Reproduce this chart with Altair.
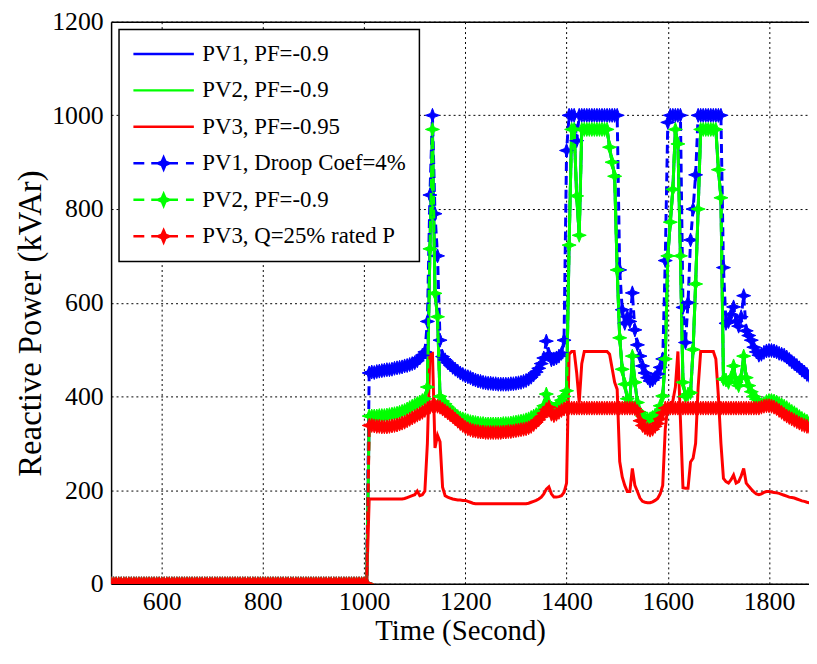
import altair as alt
import pandas as pd

# ---- time grids (s) ----
t_pre = list(range(500, 1010, 5))      # before PV connection (all outputs 0)
t_main = list(range(1010, 1890, 5))    # 1010 .. 1885
pre_level = 0

# ---- series values (kVAr), 5 s samples from 1010 s ----
pv1_droop = [
    450, 452, 451, 453, 454, 455, 456, 457, 457, 458,
    460, 461, 462, 463, 465, 466, 468, 470, 472, 476,
    482, 488, 495, 560, 830, 1000, 790, 700, 520, 485,
    478, 472, 467, 462, 458, 454, 450, 447, 444, 442,
    440, 437, 435, 433, 432, 430, 429, 428, 428, 427,
    427, 426, 426, 426, 426, 426, 427, 427, 428, 429,
    430, 432, 434, 437, 441, 446, 452, 460, 470, 482,
    518, 490, 478, 480, 482, 486, 492, 520, 925, 1000,
    1000, 1000, 946, 1000, 1000, 1000, 1000, 1000, 1000, 1000,
    1000, 1000, 1000, 1000, 1000, 1000, 1000, 1000, 1000, 670,
    585, 556, 570, 560, 621, 542, 510, 486, 465, 450,
    440, 433, 435, 440, 448, 462, 480, 690, 985, 1000,
    1000, 1000, 1000, 1000, 590, 515, 600, 734, 800, 873,
    1000, 1000, 1000, 1000, 1000, 1000, 1000, 1000, 1000, 1000,
    675, 556, 560, 575, 591, 560, 550, 570, 615, 540,
    530, 520, 505, 495, 488, 490, 494, 497, 498, 498,
    497, 495, 492, 490, 488, 484, 479, 474, 470, 466,
    461, 456, 452, 447, 443, 439,
]
pv2_pf = [
    358, 358, 358, 358, 359, 359, 359, 360, 361, 362,
    363, 364, 366, 368, 370, 373, 376, 379, 382, 385,
    388, 391, 395, 420, 715, 970, 620, 570, 400, 390,
    384, 377, 371, 366, 361, 357, 354, 352, 350, 348,
    346, 345, 344, 343, 342, 342, 341, 341, 341, 341,
    341, 341, 341, 342, 342, 342, 343, 344, 345, 346,
    347, 348, 350, 352, 355, 358, 361, 364, 368, 380,
    405, 385, 375, 373, 378, 385, 392, 400, 412, 723,
    970, 970, 828, 744, 970, 970, 970, 970, 970, 970,
    970, 970, 970, 970, 970, 932, 900, 870, 670, 525,
    458, 426, 395, 387, 486, 430, 387, 366, 358, 354,
    352, 352, 355, 360, 366, 380, 401, 480, 700, 772,
    842, 970, 939, 700, 430, 400, 405, 408, 500, 640,
    800, 970, 970, 970, 970, 970, 970, 970, 884, 824,
    437, 435, 430, 440, 465, 430, 423, 440, 486, 440,
    423, 410, 400, 394, 385, 382, 385, 389, 391, 391,
    390, 388, 385, 382, 379, 376, 372, 368, 365, 361,
    357, 353, 350, 347, 345, 343,
]
pv3_q25 = [
    338, 338, 337, 336, 336, 335, 335, 335, 336, 337,
    338, 339, 341, 343, 345, 348, 351, 354, 357, 360,
    363, 366, 370, 374, 377, 380, 380, 379, 377, 373,
    369, 365, 361, 357, 352, 347, 342, 338, 334, 331,
    329, 327, 326, 325, 324, 324, 323, 323, 323, 323,
    323, 323, 323, 324, 324, 325, 325, 326, 327, 328,
    329, 330, 331, 333, 336, 340, 345, 350, 356, 364,
    372, 377, 362, 359, 362, 366, 370, 373, 376, 376,
    375, 375, 375, 375, 375, 375, 375, 375, 375, 375,
    375, 375, 375, 375, 375, 375, 375, 375, 375, 375,
    375, 375, 375, 375, 375, 374, 368, 348, 338, 333,
    330, 328, 330, 336, 342, 352, 365, 375, 375, 375,
    375, 375, 375, 375, 375, 375, 375, 375, 375, 375,
    375, 375, 375, 375, 375, 375, 375, 375, 375, 375,
    375, 375, 375, 375, 375, 375, 375, 375, 375, 375,
    375, 375, 375, 375, 375, 377, 379, 380, 380, 379,
    377, 374, 370, 366, 362, 358, 355, 352, 349, 346,
    343, 340, 338, 336, 334, 332,
]
pv3_pf = [
    181, 181, 181, 181, 181, 181, 181, 181, 181, 181,
    181, 181, 181, 181, 182, 184, 186, 188, 190, 198,
    188, 190, 198, 300, 492, 492, 290, 317, 303, 206,
    188, 185, 183, 181, 180, 179, 179, 178, 178, 176,
    174, 172, 171, 171, 171, 171, 171, 171, 171, 171,
    171, 171, 171, 171, 171, 171, 171, 171, 171, 171,
    171, 171, 171, 172, 174, 176, 178, 181, 185, 192,
    202, 207, 192, 185, 185, 186, 188, 195, 215, 490,
    496, 496, 450, 387, 470, 496, 496, 496, 496, 496,
    496, 496, 496, 496, 496, 490, 460, 430, 415, 261,
    228, 210, 197, 197, 246, 210, 197, 183, 176, 174,
    173, 173, 175, 178, 182, 192, 210, 330, 380, 385,
    390, 420, 496, 350, 205, 204, 204, 260, 268, 300,
    420, 496, 496, 496, 496, 496, 496, 480, 400, 300,
    225, 218, 215, 222, 232, 215, 218, 230, 246, 215,
    208, 202, 196, 192, 190, 192, 195, 197, 197, 196,
    195, 194, 193, 191, 189, 187, 185, 184, 183, 181,
    179, 177, 176, 174, 173, 172,
]

# legend entries (the duplicate PV2 label carries a trailing space to stay distinct)
names = ["PV1, PF=-0.9", "PV2, PF=-0.9", "PV3, PF=-0.95",
         "PV1, Droop Coef=4%", "PV2, PF=-0.9 ", "PV3, Q=25% rated P"]
colors = ["#0000ff", "#00ff00", "#ff0000", "#0000ff", "#00ff00", "#ff0000"]
series_values = [pv2_pf, pv2_pf, pv3_pf, pv1_droop, pv2_pf, pv3_q25]
dashed = [False, False, False, True, True, True]

x_ticks = [600, 800, 1000, 1200, 1400, 1600, 1800]
y_ticks = [0, 200, 400, 600, 800, 1000, 1200]

rows = []
for name, vals in zip(names, series_values):
    for t in t_pre:
        rows.append({"t": t, "v": pre_level, "series": name})
    for t, v in zip(t_main, vals):
        rows.append({"t": t, "v": v, "series": name})
df = pd.DataFrame(rows)

FONT = "Liberation Serif"
W, H = 704, 567
PAD = {"left": 104, "top": 11, "right": 0, "bottom": 62}

star = "M0,-1L0.27,-0.27L1,0L0.27,0.27L0,1L-0.27,0.27L-1,0L-0.27,-0.27Z"


def small_star(cx, r):
    k = r * 0.3
    return (f"M{cx},{-r}L{cx + k},{-k}L{cx + r},0L{cx + k},{k}L{cx},{r}"
            f"L{cx - k},{k}L{cx - r},0L{cx - k},{-k}Z")


solid_sym = "M-1,0L5.1,0"
dash_sym = ("M-1,0L0.1,0M0.8,0L1.6,0M2.6,0L3.5,0M4.3,0L5.1,0"
            + small_star(2.05, 0.6) + small_star(2.05, 0.35) + small_star(2.05, 0.15))
shape_range = [solid_sym if not d else dash_sym for d in dashed]

x_scale = alt.Scale(domain=[500, 500 + W / 0.5105], nice=False, zero=False)
y_scale = alt.Scale(domain=[0, 1200], nice=False)

x_main = alt.X("t:Q", scale=x_scale,
               axis=alt.Axis(values=x_ticks, format="d", title="Time (Second)",
                             labelPadding=5, titlePadding=2, titleFontSize=29,
                             domain=True, domainColor="black", domainWidth=1.5))
y_main = alt.Y("v:Q", scale=y_scale,
               axis=alt.Axis(values=y_ticks, format="d", title="Reactive Power (kVAr)",
                             labelPadding=8, titlePadding=4, titleFontSize=33, titleY=304,
                             domain=True, domainColor="black", domainWidth=1.5))
x_plain = alt.X("t:Q", scale=x_scale, axis=None)
x_top = alt.X("t:Q", scale=x_scale,
              axis=alt.Axis(orient="top", labels=False, ticks=False, grid=False, title=None,
                            domain=True, domainColor="black", domainWidth=1.5))

base = alt.Chart(df)
layers = []
first = True
for name, col, d in zip(names, colors, dashed):
    sub = base.transform_filter(alt.datum.series == name)
    xe = x_main if first else x_plain
    first = False
    if d:
        layers.append(sub.mark_line(color=col, strokeWidth=3, strokeDash=[9, 5], clip=True)
                      .encode(x=xe, y=y_main))
        layers.append(sub.mark_point(shape=star, filled=True, size=200, color=col,
                                     stroke=col, strokeWidth=1, opacity=1, clip=True)
                      .encode(x=x_plain, y=y_main))
    else:
        layers.append(sub.mark_line(color=col, strokeWidth=3, clip=True)
                      .encode(x=xe, y=y_main))

legend_props = dict(orient="top-left", offset=8, padding=13, title=None,
                    strokeColor="black", fillColor="white", cornerRadius=0,
                    labelFont=FONT, labelFontSize=23, labelColor="black",
                    symbolSize=400, symbolStrokeWidth=2.5, symbolOpacity=1,
                    labelOffset=48, rowPadding=12.8, labelLimit=400)

legend_layer = base.transform_filter(alt.datum.t == 500).mark_point(
    filled=False, opacity=0).encode(
    x=x_top, y=y_main,
    color=alt.Color("series:N", scale=alt.Scale(domain=names, range=colors),
                    legend=alt.Legend(**legend_props)),
    shape=alt.Shape("series:N", scale=alt.Scale(domain=names, range=shape_range),
                    legend=alt.Legend(**legend_props)),
)
layers.append(legend_layer)

chart = alt.layer(*layers).resolve_axis(x="independent").properties(
    width=W, height=H, padding=PAD,
    autosize=alt.AutoSizeParams(type="none"),
).configure_view(stroke=None).configure_axis(
    grid=True, gridColor="black", gridDash=[2, 3], gridWidth=1, gridOpacity=1,
    domain=False, ticks=False,
    labelFont=FONT, labelFontSize=26, labelColor="black",
    titleFont=FONT, titleFontWeight="normal", titleColor="black",
).configure_legend(strokeWidth=1.5)

chart.save("out.html", embed_options={"renderer": "svg", "actions": False})
